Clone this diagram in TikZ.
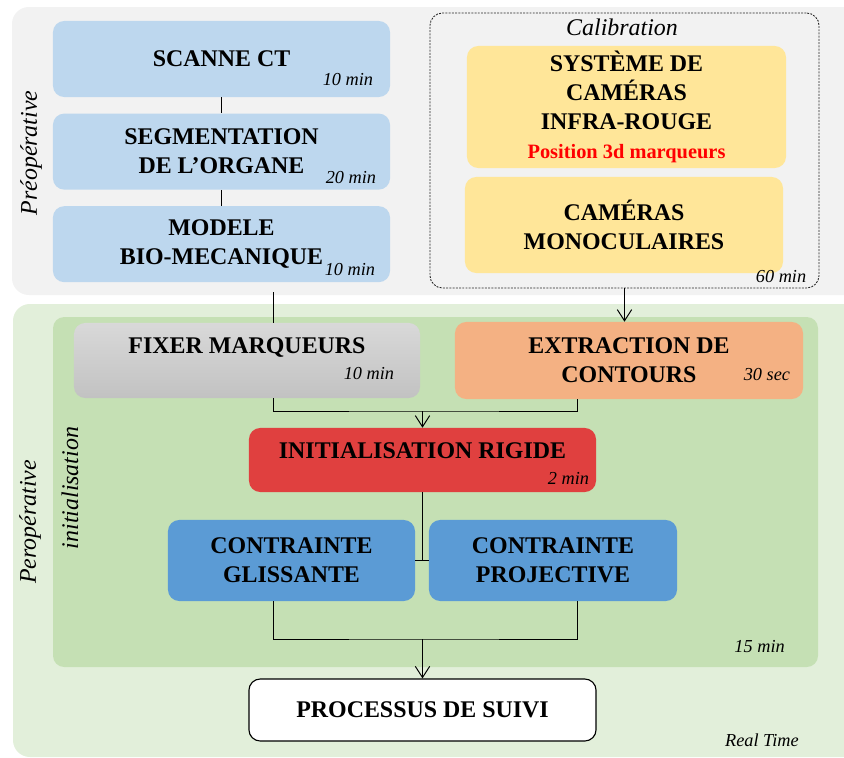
\documentclass[tikz,border=0pt]{standalone}
\usepackage{fontspec}
\setmainfont{Liberation Serif}
\usetikzlibrary{arrows.meta, positioning, calc}
\definecolor{cPre}{HTML}{F2F2F2}
\definecolor{cPerOut}{HTML}{E2EFDA}
\definecolor{cPerIn}{HTML}{C5E0B4}
\definecolor{cLightBlue}{HTML}{BDD7EE}
\definecolor{cYellow}{HTML}{FFE699}
\definecolor{cOrange}{HTML}{F4B183}
\definecolor{cRed}{HTML}{E0403F}
\definecolor{cBlue}{HTML}{5B9BD5}
\tikzset{
	stage/.style   ={rectangle, rounded corners=8pt, align=center, inner sep=2pt, font=\fontsize{17}{20.6}\selectfont\bfseries},
	prebox/.style  ={stage, fill=cLightBlue, minimum width=8.425cm, minimum height=1.9cm},
	calbox/.style  ={stage, fill=cYellow, minimum width=7.975cm},
	frame/.style   ={rectangle, rounded corners=9pt, draw=black!85, line width=0.6pt, dash pattern=on 1.4pt off 0.9pt},
	dur/.style     ={anchor=base east, inner sep=0pt, font=\fontsize{13}{15}\selectfont\itshape},
	phase/.style   ={rotate=90, inner sep=0pt, font=\fontsize{17}{20}\selectfont\itshape},
	link/.style    ={line width=0.7pt, black},
	flowarrow/.style={-{Straight Barb[length=2.8mm, width=3.6mm]}, line width=0.7pt, black},
}

\begin{document}
\begin{tikzpicture}[x=0.025cm, y=-0.025cm, node distance=0.4cm]
	\useasboundingbox (0,0) rectangle (844,758);
	% phase backgrounds
	\fill[cPre, rounded corners=12pt] (12,7) rectangle (880,295);
	\fill[cPerOut, rounded corners=12pt] (13,304) rectangle (880,757);
	\fill[cPerIn, rounded corners=8pt] (53,317) rectangle (818,667);
	% preoperative chain
	\node[prebox] (scan) at (221.5,59) {SCANNE CT};
	\node[prebox, below=of scan] (seg) {SEGMENTATION\\ DE L'ORGANE};
	\node[prebox, below=of seg] (model) {MODELE\\ BIO-MECANIQUE};
	\draw[link] (scan) -- (seg); \draw[link] (seg) -- (model);
	\node[dur] (tScan) at ($(scan.south east)+(-17,-12)$) {10 min};
	\node[dur] (tSeg) at ($(seg.south east)+(-14,-6)$) {20 min};
	\node[dur] (tModel) at ($(model.south east)+(-15,-7)$) {10 min};
	\node[phase] (preLbl) at (31,153) {Préopérative};
	% calibration
	\node[frame, minimum width=9.725cm, minimum height=6.875cm] (cal) at (624.5,150.5) {};
	\node[font=\fontsize{17}{20}\selectfont\itshape, inner sep=0pt] (calLbl) at (622,27) {Calibration};
	\node[calbox, minimum height=3.05cm] (ir) at (626.5,107) {SYSTÈME DE\\ CAMÉRAS\\ INFRA-ROUGE\\ {\color{red}\fontsize{14.5}{20.6}\selectfont Position 3d marqueurs}};
	\node[calbox, minimum width=7.95cm, minimum height=2.4cm] (mono) at (624,225) {CAMÉRAS\\ MONOCULAIRES};
	\node[dur] (tCal) at ($(cal.south east)+(-13,-6)$) {60 min};
	% peroperative: initialisation
	\node[phase] (perLbl) at (30,522) {Peropérative};
	\node[phase] (iniLbl) at (70,488) {initialisation};
	\node[stage, top color=gray!30, bottom color=gray!48, minimum width=8.65cm, minimum height=1.875cm, text depth=0.75cm] (fix) at (247,360.5) {FIXER MARQUEURS};
	\node[stage, fill=cOrange, minimum width=8.7cm, minimum height=1.925cm] (ext) at (629,360.5) {EXTRACTION DE\\ CONTOURS};
	\node[stage, fill=cRed, minimum width=8.675cm, minimum height=1.6cm, text depth=0.45cm] (init) at (422.5,460) {INITIALISATION RIGIDE};
	\node[stage, fill=cBlue, minimum width=6.175cm, minimum height=2.025cm] (glis) at (291.5,560.5) {CONTRAINTE\\ GLISSANTE};
	\node[stage, fill=cBlue, minimum width=6.2cm, minimum height=2.025cm] (proj) at (553,560.5) {CONTRAINTE\\ PROJECTIVE};
	\node[dur] (tFix) at ($(fix.south east)+(-26,-19)$) {10 min};
	\node[dur] (tExt) at ($(ext.south east)+(-13,-19)$) {30 sec};
	\node[dur] (tInit) at ($(init.south east)+(-7,-8)$) {2 min};
	\node[dur] (tIni) at (785,652) {15 min};
	% tracking
	\node[stage, fill=white, draw=black, line width=0.8pt, minimum width=8.675cm, minimum height=1.55cm] (suivi) at (422.5,710) {PROCESSUS DE SUIVI};
	\node[dur] (tReal) at (799,746) {Real Time};
	% connectors
	\coordinate (preEnd) at (273,292);
	\coordinate (joinA) at (422.5,411);
	\coordinate (joinB) at (422.5,639);
	\draw[link] (preEnd) -- (preEnd |- fix.north);
	\draw[flowarrow] (cal.south) -- (cal.south |- ext.north);
	\draw[link] ($(fix.south)+(26,0)$) |- (joinA) -| ($(ext.south)+(-52,0)$);
	\draw[flowarrow] (joinA) -- (init);
	\draw[link] (init.south) -- (init.south |- glis.east); \draw[link] (glis.east) -- (proj.west);
	\draw[link] ($(glis.south)+(-18.5,0)$) |- (joinB) -| ($(proj.south)+(24,0)$);
	\draw[flowarrow] (joinB) -- (suivi);
\end{tikzpicture}
\end{document}
